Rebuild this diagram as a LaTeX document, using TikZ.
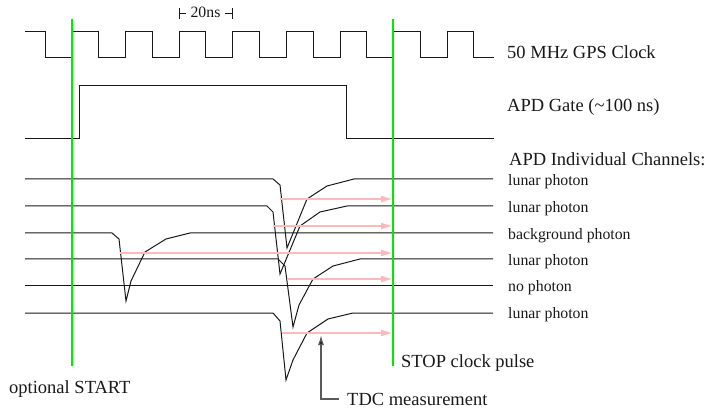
\documentclass[tikz,border=0pt]{standalone}
\usepackage{fontspec}
\setmainfont{Liberation Serif}
\usetikzlibrary{arrows.meta}
\definecolor{sig}{RGB}{25,25,25}
\definecolor{grn}{RGB}{0,235,0}
\definecolor{pnk}{RGB}{255,185,185}
\definecolor{gry}{RGB}{90,90,90}
\begin{document}
\begin{tikzpicture}[x=1pt,y=-1pt,
  wave/.style={draw=sig,line width=1pt,line join=miter},
  marker/.style={draw=grn,line width=2.6pt},
  tdcarrow/.style={draw=pnk,line width=1.4pt,-{Latex[length=12pt,width=7pt]}},
  biglabel/.style={anchor=base west,inner sep=0pt,font=\fontsize{18.5}{22}\selectfont,text=sig},
  smalllabel/.style={anchor=base west,inner sep=0pt,font=\fontsize{15.8}{19}\selectfont,text=sig},
  ticks/.style={draw=sig,line width=0.8pt}]
\useasboundingbox (0,0) rectangle (706,411);

% 20ns period marker
\node[smalllabel,anchor=base] (period) at (205.5,18) {20ns};
\draw[ticks] (179,8) -- (179,19) (179,13.5) -- (186,13.5);
\draw[ticks] (232,8) -- (232,19) (225,13.5) -- (232,13.5);

% clock
\draw[wave] (25,32) -- (45,32) -- (45,58) -- (72,58) -- (72,32) -- (98.6,32) -- (98.6,58)
  -- (125.6,58) -- (125.6,32) -- (152.2,32) -- (152.2,58) -- (179.2,58) -- (179.2,32)
  -- (205.8,32) -- (205.8,58) -- (232.8,58) -- (232.8,32) -- (259.4,32) -- (259.4,58)
  -- (286.4,58) -- (286.4,32) -- (313,32) -- (313,58) -- (340,58) -- (340,32)
  -- (366.6,32) -- (366.6,58) -- (393.6,58) -- (393.6,32) -- (420.2,32) -- (420.2,58)
  -- (447.2,58) -- (447.2,32) -- (473.8,32) -- (473.8,58) -- (494,58);
\node[biglabel] (clk) at (507,59) {50 MHz GPS Clock};

% gate
\draw[wave] (25,139) -- (79,139) -- (79,86) -- (346,86) -- (346,139) -- (494,139);
\node[biglabel] (gate) at (507,112) {APD Gate (\textasciitilde100 ns)};

\node[biglabel] (chans) at (509,166) {APD Individual Channels:};

% channels
\draw[wave] (25,179) -- (273,179) -- (280,185) -- (287,248) -- (307,199) -- (327,186) -- (354,179) -- (493,179);
\draw[wave] (25,206) -- (267,206) -- (273,212) -- (280,274) -- (300,226) -- (320,212) -- (347,206) -- (493,206);
\draw[wave] (25,233) -- (112,233) -- (119,239) -- (126,301) -- (131,281) -- (145,252) -- (166,239) -- (190,233) -- (493,233);
\draw[wave] (25,259) -- (278,259) -- (285,266) -- (293,327) -- (299,305) -- (313,279) -- (333,266) -- (360,259) -- (493,259);
\draw[wave] (25,286) -- (493,286);
\draw[wave] (25,313) -- (273,313) -- (280,321) -- (286,380) -- (293,360) -- (307,333) -- (328,319) -- (353,313) -- (493,313);

\node[smalllabel] (l1) at (508,186) {lunar photon};
\node[smalllabel] (l2) at (508,213) {lunar photon};
\node[smalllabel] (l3) at (508,240) {background photon};
\node[smalllabel] (l4) at (508,266) {lunar photon};
\node[smalllabel] (l5) at (508,292) {no photon};
\node[smalllabel] (l6) at (508,319) {lunar photon};

% TDC measurement arrows
\coordinate (s1) at (280,199); \coordinate (e1) at (393,199);
\coordinate (s2) at (273,226); \coordinate (e2) at (393,226);
\coordinate (s3) at (120,253); \coordinate (e3) at (393,253);
\coordinate (s4) at (287,279); \coordinate (e4) at (393,279);
\coordinate (s6) at (282,333); \coordinate (e6) at (393,333);
\foreach \i in {1,2,3,4,6} \draw[tdcarrow] (s\i) -- (e\i);

% START / STOP markers
\draw[marker] (72,19) -- (72,366);
\draw[marker] (393,19) -- (393,366);
\node[biglabel] (start) at (9,393) {optional START};
\node[biglabel] (stop) at (401,367) {STOP clock pulse};

% TDC label with pointer
\node[biglabel] (tdc) at (347,405) {TDC measurement};
\coordinate (tdcfoot) at (339,399);
\coordinate (tdctip) at (321,335);
\draw[draw=gry,line width=1.3pt,-{Latex[length=10pt,width=6pt,fill=black]}] (tdcfoot) -| (tdctip);
\end{tikzpicture}
\end{document}
